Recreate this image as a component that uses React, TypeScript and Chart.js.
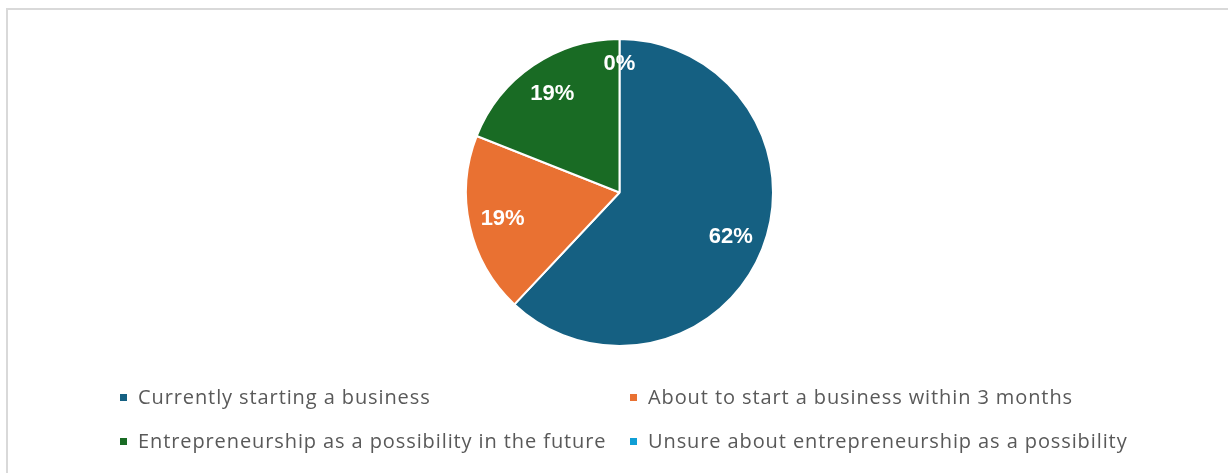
import React, { useEffect, useRef } from "react";
import { Chart, registerables } from "chart.js";

Chart.register(...registerables);

const categories = [
  "Currently starting a business",
  "About to start a business within 3 months",
  "Entrepreneurship as a possibility in the future",
  "Unsure about entrepreneurship as a possibility",
];
const shares = [62, 19, 19, 0];
const valueLabels = ["62%", "19%", "19%", "0%"];
const colors = ["#156082", "#E97132", "#196B24", "#0F9ED5"];

const W = 1228;
const H = 473;

const framePlugin = {
  id: "frame",
  beforeDraw(chart: any) {
    const ctx = chart.ctx;
    ctx.save();
    ctx.fillStyle = "#ffffff";
    ctx.fillRect(0, 0, W, H);
    ctx.strokeStyle = "#d9d9d9";
    ctx.lineWidth = 2;
    ctx.strokeRect(7, 9, W + 20, H + 20);
    ctx.restore();
  },
};

const sliceLabelPlugin = {
  id: "sliceLabels",
  afterDatasetsDraw(chart: any) {
    const ctx = chart.ctx;
    const meta = chart.getDatasetMeta(0);
    ctx.save();
    ctx.fillStyle = "#ffffff";
    ctx.font = "bold 22px 'Liberation Sans', Arial, sans-serif";
    ctx.textAlign = "center";
    ctx.textBaseline = "middle";
    meta.data.forEach((arc: any, i: number) => {
      const { x, y, startAngle, endAngle, outerRadius } = arc.getProps(
        ["x", "y", "startAngle", "endAngle", "outerRadius"],
        true
      );
      const mid = (startAngle + endAngle) / 2;
      const frac = shares[i] === 0 ? 0.84 : 0.78;
      const r = outerRadius * frac;
      ctx.fillText(valueLabels[i], x + Math.cos(mid) * r, y + Math.sin(mid) * r);
    });
    ctx.restore();
  },
};

const legendPlugin = {
  id: "gridLegend",
  afterDraw(chart: any) {
    const ctx = chart.ctx;
    ctx.save();
    ctx.font = "20px 'Open Sans', 'Noto Sans', sans-serif";
    try {
      (ctx as any).letterSpacing = "0.9px";
    } catch (e) {}
    ctx.textBaseline = "middle";
    ctx.textAlign = "left";
    const colX = [120, 630];
    const rowY = [398, 442];
    categories.forEach((label, i) => {
      const cx = colX[i % 2];
      const cy = rowY[Math.floor(i / 2)];
      ctx.fillStyle = colors[i];
      ctx.fillRect(cx, cy - 4, 7, 7);
      ctx.fillStyle = "#595959";
      ctx.fillText(label, cx + 18, cy);
    });
    ctx.restore();
  },
};

export default function App() {
  const ref = useRef<HTMLCanvasElement | null>(null);
  useEffect(() => {
    if (!ref.current) return;
    const chart = new Chart(ref.current, {
      type: "pie",
      data: {
        labels: categories,
        datasets: [
          {
            data: shares,
            backgroundColor: colors,
            borderColor: "#ffffff",
            borderWidth: 2,
            hoverBorderWidth: 2,
            hoverOffset: 0,
          },
        ],
      },
      options: {
        animation: false,
        responsive: false,
        maintainAspectRatio: false,
        events: [],
        layout: { padding: { top: 38, bottom: 126, left: 11, right: 0 } },
        plugins: {
          legend: { display: false },
          tooltip: { enabled: false },
        },
      },
      plugins: [framePlugin, sliceLabelPlugin, legendPlugin],
    });
    return () => chart.destroy();
  }, []);
  return (
    <div style={{ position: "absolute", left: 0, top: 0, width: W, height: H, overflow: "hidden" }}>
      <canvas ref={ref} width={W} height={H} style={{ display: "block", width: W, height: H }} />
    </div>
  );
}
